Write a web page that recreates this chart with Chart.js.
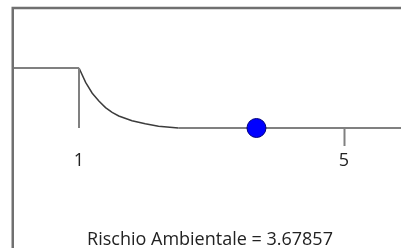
<!DOCTYPE html>
<html>
<head>
<meta charset="utf-8">
<script src="https://cdn.jsdelivr.net/npm/chart.js@4.4.1/dist/chart.umd.min.js"></script>
<style>
  html, body { margin: 0; padding: 0; background: #fff; overflow: hidden; }
  #c { display: block; }
</style>
</head>
<body>
<canvas id="c" width="420" height="248"></canvas>
<script>
// Valori
const frameX = [0, 0, 7];
const frameY = [-3, 2, 2];
const levelX = [0, 1];
const levelY = [1, 1];
const dropX = [1, 1];
const dropY = [1, 0];
const curveX = [1, 1.1, 1.2, 1.3, 1.4, 1.5, 1.6, 1.8, 2.0, 2.2, 2.5];
const curveY = [1, 0.76, 0.58, 0.45, 0.34, 0.26, 0.2, 0.12, 0.07, 0.03, 0];
const baseX = [2.5, 7];
const baseY = [0, 0];
const tickValues = [1, 5];
const riskValue = 3.67857;
const riskLabel = 'Rischio Ambientale = ' + riskValue;

const pts = (xs, ys) => xs.map((x, i) => ({ x, y: ys[i] }));

function lineSet(xs, ys, color, width) {
  return {
    data: pts(xs, ys), showLine: true, borderColor: color, borderWidth: width,
    pointRadius: 0, pointHoverRadius: 0, tension: 0, fill: false, order: 1,
  };
}

Chart.defaults.animation = false;
Chart.defaults.font.family = "'Open Sans', 'Noto Sans', sans-serif";

new Chart(document.getElementById('c'), {
  type: 'scatter',
  data: {
    datasets: [
      lineSet(frameX, frameY, '#707070', 2.5),
      lineSet(levelX, levelY, '#808080', 2),
      lineSet(dropX, dropY, '#808080', 2),
      lineSet(curveX, curveY, '#3c3c3c', 1.5),
      lineSet(baseX, baseY, '#808080', 2),
      {
        // il punto sta sopra la linea di base
        data: [{ x: riskValue, y: 0 }], order: 0,
        pointRadius: 9.5, pointHoverRadius: 9.5,
        backgroundColor: '#0000ff', borderColor: '#00007a', borderWidth: 1,
      },
    ],
  },
  options: {
    responsive: false,
    layout: { padding: 0, autoPadding: false },
    plugins: { legend: { display: false }, tooltip: { enabled: false } },
    events: [],
    scales: {
      x: {
        type: 'linear',
        min: -0.1925, max: 6.147,
        position: { y: 0 },
        afterBuildTicks: axis => { axis.ticks = tickValues.map(v => ({ value: v })); },
        grid: {
          drawOnChartArea: false, drawTicks: true, tickLength: 18, tickWidth: 2,
          tickColor: ctx => (ctx.tick && ctx.tick.value === 5 ? '#808080' : 'rgba(0,0,0,0)'),
        },
        border: { display: false },
        ticks: { color: '#222', font: { size: 18 }, padding: 4, maxRotation: 0 },
        title: { display: true, text: riskLabel, color: '#222', font: { size: 18 }, padding: { top: 53, bottom: 0 } },
      },
      y: { type: 'linear', min: -2.0, max: 2.1333, display: false },
    },
  },
});
</script>
</body>
</html>
